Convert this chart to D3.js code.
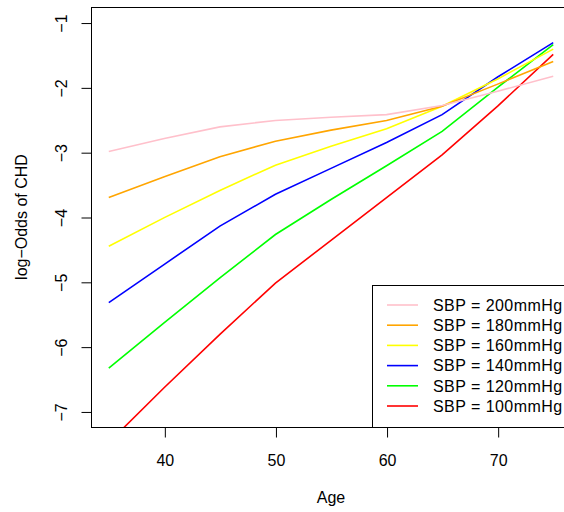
<!DOCTYPE html>
<html>
<head>
<meta charset="utf-8">
<script src="https://cdn.jsdelivr.net/npm/d3@7"></script>
<style>
  html, body { margin: 0; padding: 0; background: #fff; }
  svg { display: block; }
  text { font-family: "Liberation Sans", Arial, Helvetica, sans-serif; }
</style>
</head>
<body>
<svg id="chart" width="564" height="512"></svg>
<script>
const ages = [35, 40, 45, 50, 55, 60, 65, 70, 75];
const sbp200 = [-2.99, -2.79, -2.61, -2.51, -2.46, -2.42, -2.28, -2.06, -1.83];
const sbp180 = [-3.70, -3.38, -3.07, -2.83, -2.66, -2.51, -2.29, -1.95, -1.60];
const sbp160 = [-4.45, -4.01, -3.59, -3.20, -2.91, -2.64, -2.29, -1.87, -1.41];
const sbp140 = [-5.32, -4.73, -4.14, -3.65, -3.25, -2.85, -2.42, -1.84, -1.31];
const sbp120 = [-6.33, -5.63, -4.94, -4.27, -3.73, -3.21, -2.68, -2.00, -1.34];
const sbp100 = [-7.48, -6.63, -5.81, -5.02, -4.36, -3.70, -3.04, -2.29, -1.49];
const seriesNames = ["SBP = 200mmHg", "SBP = 180mmHg", "SBP = 160mmHg", "SBP = 140mmHg", "SBP = 120mmHg", "SBP = 100mmHg"];
const seriesColors = ["pink", "orange", "yellow", "blue", "#00ff00", "red"];
const seriesValues = [sbp200, sbp180, sbp160, sbp140, sbp120, sbp100];
const xTicks = [40, 50, 60, 70];
const yTicks = [-7, -6, -5, -4, -3, -2, -1];
const xLabel = "Age";
const yLabel = "log\u2212Odds of CHD";

const svg = d3.select("#chart");
const L = 91, R = 571, T = 7, B = 427;
const x = d3.scaleLinear().domain([33.4, 76.6]).range([L, R]);
const y = d3.scaleLinear().domain([-7.24, -0.76]).range([B, T]);
const fmt = v => String(v).replace("-", "\u2212");

svg.append("defs").append("clipPath").attr("id", "clip")
  .append("rect").attr("x", L).attr("y", T).attr("width", R - L).attr("height", B - T);

// lines
const line = d3.line().x((d, i) => x(ages[i])).y(d => y(d));
const order = [5, 4, 3, 2, 1, 0];
svg.append("g").attr("clip-path", "url(#clip)")
  .selectAll("path").data(order).join("path")
  .attr("d", i => line(seriesValues[i]))
  .attr("fill", "none")
  .attr("stroke", i => seriesColors[i])
  .attr("stroke-width", 1.6);

// box
svg.append("rect").attr("x", L + 0.5).attr("y", T + 0.5)
  .attr("width", R - L).attr("height", B - T)
  .attr("fill", "none").attr("stroke", "#000").attr("stroke-width", 1);

// x axis
const xAxis = d3.axisBottom(x).tickValues(xTicks).tickSize(10).tickPadding(17).tickFormat(fmt);
const gx = svg.append("g").attr("transform", `translate(0.5,${B + 0.5})`).call(xAxis);
gx.select(".domain").attr("d", `M${x(40)},0H${x(70)}`).attr("stroke", "#000");
gx.selectAll(".tick line").attr("stroke", "#000");
gx.selectAll(".tick text").attr("font-size", 16).attr("fill", "#000")
  .attr("font-family", "'Liberation Sans', Arial, sans-serif");

// y axis
const yAxis = d3.axisLeft(y).tickValues(yTicks).tickSize(10).tickFormat(fmt);
const gy = svg.append("g").attr("transform", `translate(${L + 0.5},0.5)`).call(yAxis);
gy.select(".domain").attr("d", `M0,${y(-7)}V${y(-1)}`).attr("stroke", "#000");
gy.selectAll(".tick line").attr("stroke", "#000");
gy.selectAll(".tick text")
  .attr("font-size", 16).attr("fill", "#000")
  .attr("font-family", "'Liberation Sans', Arial, sans-serif")
  .attr("x", null).attr("dy", null)
  .attr("text-anchor", "middle")
  .attr("transform", "translate(-24.5,0) rotate(-90)");

// axis titles
svg.append("text").attr("x", (L + R) / 2).attr("y", 503)
  .attr("text-anchor", "middle").attr("font-size", 16).text(xLabel);
svg.append("text").attr("transform", `translate(27,${(T + B) / 2}) rotate(-90)`)
  .attr("text-anchor", "middle").attr("font-size", 16).text(yLabel);

// legend
const lg = svg.append("g");
lg.append("rect").attr("x", 372.5).attr("y", 285.5).attr("width", 200).attr("height", B - 285)
  .attr("fill", "#fff").attr("stroke", "#000").attr("stroke-width", 1);
const rowY = i => 305 + i * 20.2;
lg.selectAll("line.k").data(seriesNames).join("line")
  .attr("x1", 387).attr("x2", 418)
  .attr("y1", (d, i) => rowY(i)).attr("y2", (d, i) => rowY(i))
  .attr("stroke", (d, i) => seriesColors[i]).attr("stroke-width", 1.6);
lg.selectAll("text").data(seriesNames).join("text")
  .attr("x", 433).attr("y", (d, i) => rowY(i)).attr("dy", "0.36em")
  .attr("font-size", 16).attr("letter-spacing", 0.45).text(d => d);
</script>
</body>
</html>
